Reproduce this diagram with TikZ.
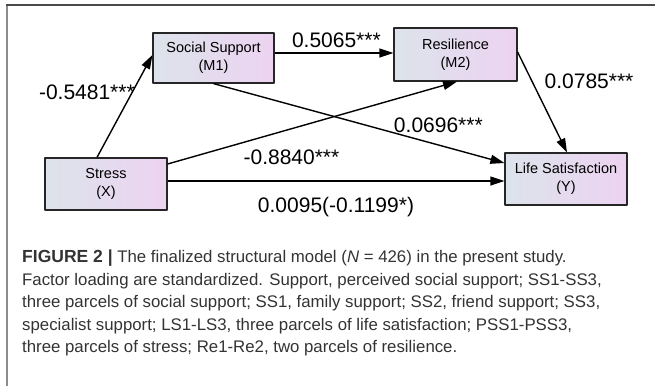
\documentclass[tikz,border=0pt]{standalone}
\usepackage{fontspec}
\setmainfont{Liberation Sans}
\usetikzlibrary{arrows.meta}
\definecolor{boxl}{HTML}{DCE3EB}
\definecolor{boxr}{HTML}{EDD3F1}
\definecolor{captext}{HTML}{333333}
\definecolor{frametop}{HTML}{4A4A4A}
\definecolor{frameleft}{HTML}{8C8C8C}
\begin{document}
\begin{tikzpicture}[x=1pt,y=-1pt, line join=round,
	box/.style={rectangle,draw=black!85,line width=1.2pt,left color=boxl,right color=boxr,
		minimum width=122pt,minimum height=52pt,inner sep=0pt,align=center,
		font=\fontsize{14.5}{18}\selectfont},
	lab/.style={inner sep=0pt,font=\fontsize{21}{25}\selectfont},
	path/.style={line width=1.4pt,-{Triangle[length=14pt,width=9pt]}}]
	\useasboundingbox (0,0) rectangle (655,386);
	% frame
	\draw[frameleft,line width=1.5pt](7,386)--(7,5);
	\draw[frametop,line width=1.5pt](6.25,5)--(655,5);
	% boxes
	\path (106,184)node[box](x){Stress\\(X)}
	(213.5,58)node[box,minimum width=121pt,minimum height=50pt](m1){Social Support\\(M1)}
	(455.5,54.5)node[box,minimum width=123pt,minimum height=53pt](m2){Resilience\\(M2)}
	(566,179)node[box](y){Life Satisfaction\\(Y)};
	% paths
	\draw[path]([xshift=-9pt]x.north)--([yshift=3pt]m1.west)
	node[lab,pos=0.64,anchor=east,xshift=3pt](a1){-0.5481***};
	\draw[path]([yshift=5pt]m1.east)--([yshift=1.5pt]m2.west)
	node[lab,pos=0.52,anchor=south,yshift=5pt](a2){0.5065***};
	\draw[path]([yshift=2.5pt]m2.east)--([xshift=1pt]y.north)
	node[lab,pos=0.29,anchor=west,xshift=12pt](a3){0.0785***};
	\draw[path](m1.south)--([yshift=16pt]y.west)
	node[lab,pos=0.773,yshift=20pt](a4){0.0696***};
	\draw[path]([yshift=20pt]x.east)--([xshift=1.5pt]m2.south)
	node[lab,pos=0.428,yshift=-28.5pt](a5){-0.8840***};
	\draw[path]([yshift=3pt]x.east)--([yshift=-2pt]y.west)
	node[lab,pos=0.5,yshift=-26pt](a6){0.0095(-0.1199*)};
	% caption
	\path (22,250)node[anchor=north west,inner sep=0pt,align=left,text=captext,
	font=\fontsize{16.8}{22.5}\selectfont](cap){{\fontsize{17.5}{22.5}\selectfont\textbf{FIGURE 2 |}} The finalized structural model (\textit{N} = 426) in the present study.\\
	Factor loading are standardized. Support, perceived social support; SS1-SS3,\\
	three parcels of social support; SS1, family support; SS2, friend support; SS3,\\
	specialist support; LS1-LS3, three parcels of life satisfaction; PSS1-PSS3,\\
	three parcels of stress; Re1-Re2, two parcels of resilience.};
\end{tikzpicture}
\end{document}
